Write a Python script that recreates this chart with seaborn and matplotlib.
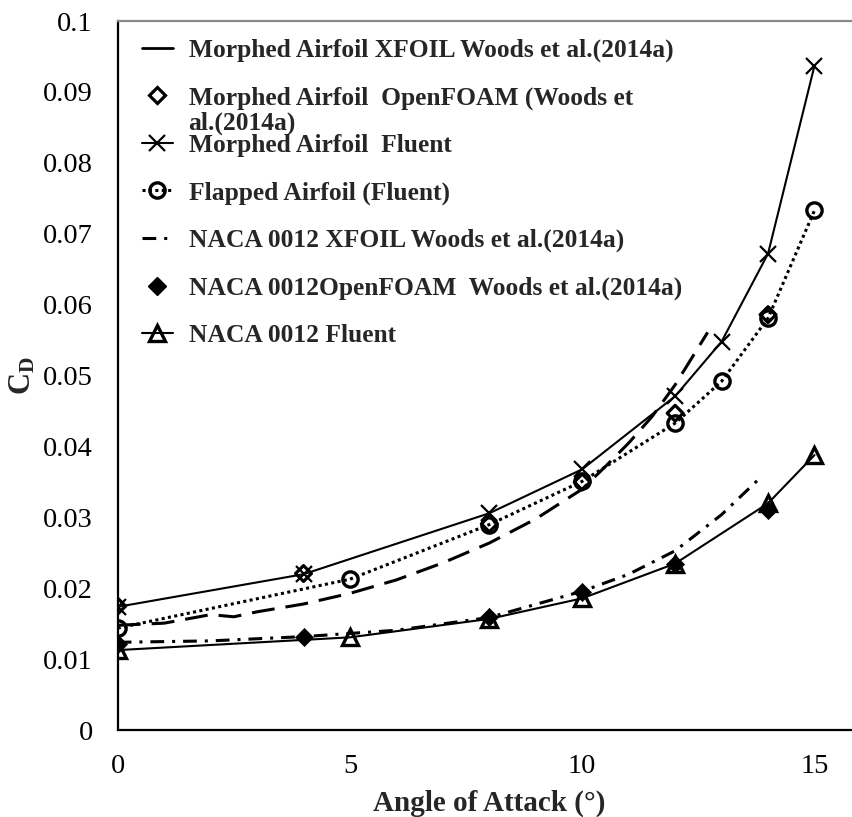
import matplotlib
matplotlib.use("Agg")
import matplotlib.pyplot as plt
import seaborn as sns
from matplotlib.lines import Line2D
from matplotlib.ticker import MultipleLocator, FuncFormatter

# Drag coefficient vs angle of attack
morph_xfoil_aoa = [0, 1, 2, 2.5, 3, 4, 5, 6, 7, 8, 9, 10, 10.5, 11, 11.5, 12, 12.7]
morph_xfoil_cd = [0.0148, 0.0151, 0.0163, 0.0160, 0.0167, 0.0178, 0.0193, 0.0212, 0.0236,
                  0.0264, 0.0298, 0.0340, 0.0372, 0.0405, 0.0442, 0.0487, 0.0561]
morph_foam_aoa = [0, 4, 8, 10, 12, 14]
morph_foam_cd = [0.0175, 0.0221, 0.0291, 0.0350, 0.0447, 0.0586]
morph_fluent_aoa = [0, 4, 8, 10, 12, 13, 14, 15]
morph_fluent_cd = [0.0174, 0.0220, 0.0306, 0.0368, 0.0471, 0.0548, 0.0672, 0.0937]
flap_fluent_aoa = [0, 5, 8, 10, 12, 13, 14, 15]
flap_fluent_cd = [0.0144, 0.0213, 0.0290, 0.0351, 0.0433, 0.0492, 0.0581, 0.0733]
naca_xfoil_aoa = [0, 2, 4, 6, 8, 10, 11, 12, 13, 13.8]
naca_xfoil_cd = [0.0124, 0.0126, 0.0132, 0.0141, 0.0159, 0.0196, 0.0220, 0.0253, 0.0304, 0.0354]
naca_foam_aoa = [0, 4, 8, 10, 12, 14]
naca_foam_cd = [0.0122, 0.0132, 0.0160, 0.0195, 0.0235, 0.0311]
naca_fluent_aoa = [0, 5, 8, 10, 12, 14, 15]
naca_fluent_cd = [0.0113, 0.0131, 0.0157, 0.0186, 0.0235, 0.0320, 0.0388]

legend_labels = [
    "Morphed Airfoil XFOIL Woods et al.(2014a)",
    "Morphed Airfoil  OpenFOAM (Woods et",
    "Morphed Airfoil  Fluent",
    "Flapped Airfoil (Fluent)",
    "NACA 0012 XFOIL Woods et al.(2014a)",
    "NACA 0012OpenFOAM  Woods et al.(2014a)",
    "NACA 0012 Fluent",
]
legend_wrap = "al.(2014a)"

sns.set_style("white")
plt.rcParams["font.family"] = ["Liberation Serif", "DejaVu Serif"]
plt.rcParams["mathtext.fontset"] = "custom"
plt.rcParams["mathtext.rm"] = "Liberation Serif"
plt.rcParams["mathtext.bf"] = "Liberation Serif:bold"

fig = plt.figure(figsize=(8.53, 8.17), dpi=100)
ax = fig.add_axes([0.138, 0.1062, 0.8713, 0.868])

LONG_DASH = (0, (7.5, 3.6))
DASH_DOT = (0, (4.5, 2.6, 1.0, 2.6))
DOTTED = (0, (1.0, 1.1))

sns.lineplot(x=morph_xfoil_aoa, y=morph_xfoil_cd, ax=ax, color="black", lw=2.2,
             linestyle=LONG_DASH, estimator=None, sort=False)
sns.lineplot(x=naca_xfoil_aoa, y=naca_xfoil_cd, ax=ax, color="black", lw=2.2,
             linestyle=DASH_DOT, estimator=None, sort=False)
sns.lineplot(x=flap_fluent_aoa, y=flap_fluent_cd, ax=ax, color="black", lw=2.2,
             linestyle=DOTTED, marker="o", markersize=11, markerfacecolor="none",
             markeredgecolor="black", markeredgewidth=2.4, estimator=None, sort=False)
sns.lineplot(x=morph_fluent_aoa, y=morph_fluent_cd, ax=ax, color="black", lw=1.5,
             linestyle="-", marker="x", markersize=11, markeredgecolor="black",
             markeredgewidth=1.6, estimator=None, sort=False)
sns.lineplot(x=naca_fluent_aoa, y=naca_fluent_cd, ax=ax, color="black", lw=1.5,
             linestyle="-", marker="^", markersize=11, markerfacecolor="none",
             markeredgecolor="black", markeredgewidth=2.4, estimator=None, sort=False)
sns.scatterplot(x=morph_foam_aoa, y=morph_foam_cd, ax=ax, marker="D", s=65,
                facecolor="none", edgecolor="black", linewidth=2.3, zorder=3)
sns.scatterplot(x=naca_foam_aoa, y=naca_foam_cd, ax=ax, marker="D", s=85,
                color="black", edgecolor="black", linewidth=0.5, zorder=3)

ax.set_xlim(0, 16)
ax.set_ylim(0, 0.1)
ax.xaxis.set_major_locator(MultipleLocator(5))
ax.xaxis.set_minor_locator(MultipleLocator(1))
ax.yaxis.set_major_locator(MultipleLocator(0.01))
ax.yaxis.set_minor_locator(MultipleLocator(0.002))
ax.yaxis.set_major_formatter(FuncFormatter(lambda v, p: f"{v:.2f}".rstrip("0").rstrip(".") if v else "0"))
ax.xaxis.set_major_formatter(FuncFormatter(lambda v, p: f"{v:.0f}"))

ax.tick_params(which="major", direction="in", length=10, width=1.4, labelsize=20.5,
               colors="black")
ax.tick_params(which="minor", direction="in", length=6, width=1.2, colors="black")
ax.tick_params(axis="y", which="major", pad=18)
ax.tick_params(axis="x", which="major", pad=17)
ax.tick_params(top=False, right=False, which="both")

for side in ("left", "bottom"):
    ax.spines[side].set_color("black")
    ax.spines[side].set_linewidth(1.6)
ax.spines["top"].set_color("#8a8a8a")
ax.spines["top"].set_linewidth(1.6)
ax.spines["right"].set_visible(False)

ax.set_xlabel("Angle of Attack (°)", fontsize=21, fontweight="bold", labelpad=8)
ax.set_ylabel(r"$\mathbf{C_D}$", fontsize=22, labelpad=4)

handles = [
    Line2D([], [], color="black", lw=2.0, linestyle="-"),
    Line2D([], [], color="black", linestyle="none", marker="D", markersize=8,
           markerfacecolor="none", markeredgewidth=2.3),
    Line2D([], [], color="black", lw=1.5, linestyle="-", marker="x", markersize=11,
           markeredgewidth=1.6),
    Line2D([], [], color="black", lw=2.2, linestyle=DOTTED, marker="o", markersize=11,
           markerfacecolor="none", markeredgewidth=2.4),
    Line2D([], [], color="black", lw=2.2, linestyle=DASH_DOT),
    Line2D([], [], color="black", linestyle="none", marker="D", markersize=9),
    Line2D([], [], color="black", lw=1.5, linestyle="-", marker="^", markersize=11,
           markerfacecolor="none", markeredgewidth=2.4),
]
leg_font = {"family": "Liberation Serif", "weight": "bold", "size": 18.4}
leg = ax.legend(handles, legend_labels, loc="upper left", bbox_to_anchor=(0.0327, 0.9753),
                frameon=False, borderpad=0, borderaxespad=0, handlelength=1.2,
                handletextpad=0.62, labelspacing=0.95, prop=leg_font)
# second line of the wrapped OpenFOAM label
ax.text(0.095, 0.8560, legend_wrap, transform=ax.transAxes, ha="left", va="center",
        fontdict=leg_font, zorder=6)

fig.savefig("out.png", dpi=100)
